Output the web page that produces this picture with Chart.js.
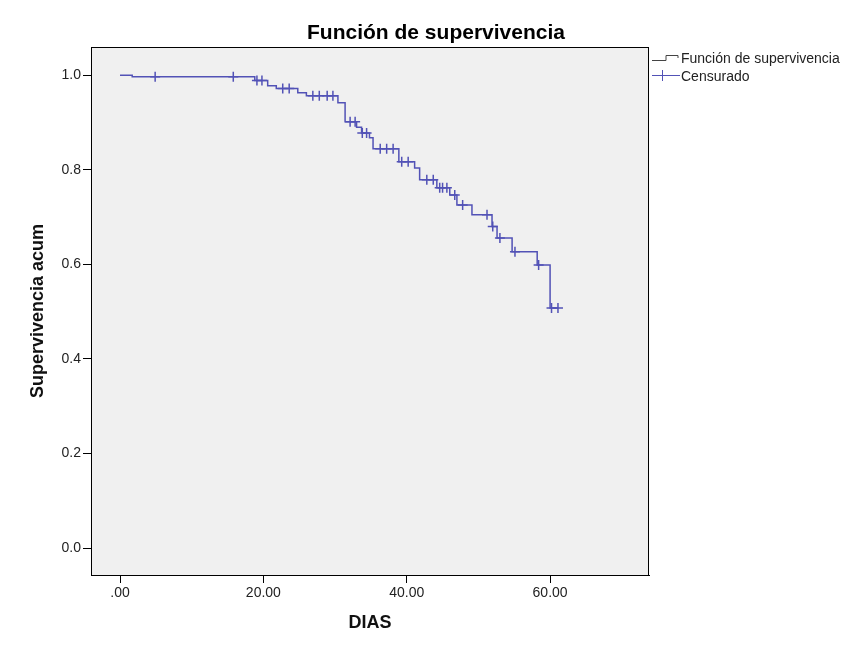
<!DOCTYPE html>
<html>
<head>
<meta charset="utf-8">
<script src="https://cdn.jsdelivr.net/npm/chart.js@4.4.0/dist/chart.umd.min.js"></script>
<style>
  body { margin: 0; background: #fff; }
  canvas { display: block; }
</style>
</head>
<body>
<canvas id="chart" width="853" height="645"></canvas>
<script>
// Kaplan-Meier steps: time of event and survival after it
const eventDays = [0, 1.7, 18.8, 20.6, 21.8, 24.8, 26.0, 30.4, 31.4, 33.0, 33.7, 34.8, 35.3,
  38.9, 41.1, 41.8, 44.2, 46.0, 47.0, 49.1, 51.9, 52.6, 54.7, 58.2, 60.0];
const eventSurv = [1.0, 0.997, 0.989, 0.978, 0.972, 0.963, 0.957, 0.942, 0.902, 0.890, 0.878, 0.868, 0.845,
  0.817, 0.804, 0.779, 0.762, 0.747, 0.726, 0.705, 0.680, 0.656, 0.627, 0.599, 0.508];

// censored cases
const censorDays = [4.9, 15.8, 19.1, 19.8, 22.7, 23.6, 26.9, 27.8, 28.9, 29.7, 32.1, 32.8, 33.8,
  34.4, 36.3, 37.2, 38.1, 39.3, 40.2, 42.8, 43.7, 44.6, 45.0, 45.6, 46.7, 47.8, 51.2, 52.0,
  53.0, 55.1, 58.4, 60.2, 61.1];

const xTicks = [0, 20, 40, 60];
const xLabels = ['.00', '20.00', '40.00', '60.00'];
const yTicks = [0, 0.2, 0.4, 0.6, 0.8, 1.0];

const lineColor = '#5252b6';
const FONT = "Arial, 'Liberation Sans', sans-serif";

function survivalAt(t) {
  let s = 1;
  eventDays.forEach((d, i) => { if (d <= t) s = eventSurv[i]; });
  return s;
}

const stepPoints = eventDays.map((d, i) => ({ x: d, y: eventSurv[i] }));
const lastDay = censorDays[censorDays.length - 1];
stepPoints.push({ x: lastDay, y: survivalAt(lastDay) });

const censorPoints = censorDays.map((d) => ({ x: d, y: survivalAt(d) }));

const framePlugin = {
  id: 'frame',
  beforeDatasetsDraw(chart) {
    const { ctx, chartArea: a } = chart;
    ctx.save();
    ctx.fillStyle = '#f0f0f0';
    ctx.fillRect(a.left, a.top, a.right - a.left, a.bottom - a.top);
    ctx.restore();
  },
  afterDraw(chart) {
    const { ctx, chartArea: a } = chart;
    ctx.save();
    ctx.strokeStyle = '#000';
    ctx.lineWidth = 1;
    ctx.strokeRect(a.left + 0.5, a.top + 0.5, a.right - a.left - 1, a.bottom - a.top);

    // title
    ctx.fillStyle = '#000';
    ctx.font = 'bold 21px ' + FONT;
    ctx.textAlign = 'center';
    ctx.textBaseline = 'middle';
    ctx.fillText('Función de supervivencia', 436, 33);

    // legend
    const lx = a.right + 3;
    ctx.strokeStyle = '#444';
    ctx.lineWidth = 1;
    ctx.beginPath();
    ctx.moveTo(lx, 60.5);
    ctx.lineTo(lx + 14, 60.5);
    ctx.lineTo(lx + 14, 55.5);
    ctx.lineTo(lx + 26, 55.5);
    ctx.lineTo(lx + 26, 58);
    ctx.stroke();

    ctx.strokeStyle = lineColor;
    ctx.beginPath();
    ctx.moveTo(lx, 75.5);
    ctx.lineTo(lx + 28, 75.5);
    ctx.moveTo(lx + 10.5, 70);
    ctx.lineTo(lx + 10.5, 81);
    ctx.stroke();

    ctx.fillStyle = '#222';
    ctx.font = '14px ' + FONT;
    ctx.textAlign = 'left';
    ctx.fillText('Función de supervivencia', lx + 29, 59);
    ctx.fillText('Censurado', lx + 29, 77);
    ctx.restore();
  }
};

new Chart(document.getElementById('chart'), {
  type: 'scatter',
  data: {
    datasets: [{
      label: 'Función de supervivencia',
      data: stepPoints,
      showLine: true,
      stepped: 'before',
      borderColor: lineColor,
      borderWidth: 1.5,
      pointRadius: 0,
      fill: false,
    }, {
      label: 'Censurado',
      data: censorPoints,
      showLine: false,
      pointStyle: 'cross',
      pointRadius: 5,
      pointBorderWidth: 1.5,
      borderColor: lineColor,
      backgroundColor: lineColor,
    }],
  },
  options: {
    responsive: false,
    animation: false,
    layout: { padding: { top: 47, left: 0, right: 204, bottom: 0 } },
    plugins: {
      legend: { display: false },
      tooltip: { enabled: false },
    },
    scales: {
      x: {
        type: 'linear',
        min: -4.05,
        max: 73.8,
        afterFit: (scale) => { scale.height = 70; },
        afterBuildTicks: (scale) => { scale.ticks = xTicks.map((v) => ({ value: v })); },
        ticks: {
          color: '#222',
          font: { family: FONT, size: 14 },
          padding: 2,
          maxRotation: 0,
          callback: (v) => xLabels[xTicks.indexOf(v)],
        },
        grid: { drawOnChartArea: false, tickLength: 8, color: '#000' },
        border: { display: true, color: '#000' },
        title: {
          display: true,
          text: 'DIAS',
          color: '#111',
          font: { family: FONT, size: 18, weight: 'bold' },
          padding: { top: 0, bottom: 11 },
        },
      },
      y: {
        type: 'linear',
        min: -0.057,
        max: 1.06,
        afterFit: (scale) => { scale.width = 91; },
        afterBuildTicks: (scale) => { scale.ticks = yTicks.map((v) => ({ value: v })); },
        ticks: {
          color: '#222',
          font: { family: FONT, size: 14 },
          padding: 2,
          callback: (v) => v.toFixed(1),
        },
        grid: { drawOnChartArea: false, tickLength: 8, color: '#000' },
        border: { display: true, color: '#000' },
        title: {
          display: true,
          text: 'Supervivencia acum',
          color: '#111',
          font: { family: FONT, size: 18, weight: 'bold' },
          padding: { top: 27, bottom: 0 },
        },
      },
    },
  },
  plugins: [framePlugin],
});
</script>
</body>
</html>
